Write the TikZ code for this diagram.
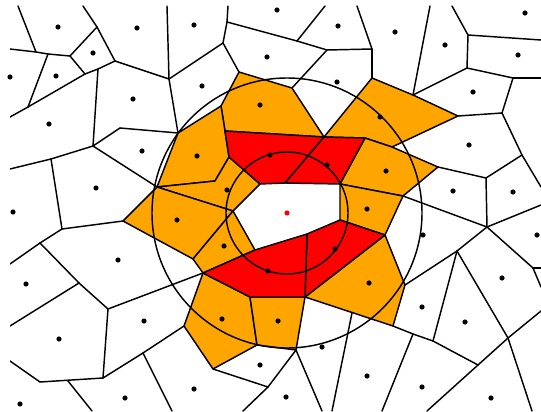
\documentclass[tikz,border=0pt]{standalone}
\definecolor{cellorange}{RGB}{255,165,0}
\definecolor{cellred}{RGB}{255,0,0}
\tikzset{edge/.style={line width=1.45pt},
  ocell/.style={edge,fill=cellorange},
  rcell/.style={edge,fill=cellred}}
\begin{document}
\begin{tikzpicture}[x=1pt,y=-1pt,line join=round,line cap=round]
	\useasboundingbox (0,0) rectangle (541,412);
	% Voronoi vertices
	\foreach \n/\x/\y in {1/18/6,2/36/52,3/10/49,4/48/54,5/70/56,6/83/6,7/97/27,8/115/61,9/85/74,10/98/69,
		11/28/107,12/10/117,13/167/6,14/169/79,15/228/6,16/227/22,17/223/43,18/297/41,19/325/6,20/327/50,
		21/372/49,22/357/6,23/372/78,24/292/88,25/239/72,26/93/146,27/120/128,28/178/133,29/10/169,30/51/159,
		31/157/187,32/221/106,33/225/131,34/229/157,35/215/181,36/324/137,37/365/138,38/392/147,39/413/95,40/458/116,
		41/430/6,42/452/6,43/468/35,44/541/40,45/467/68,46/513/78,47/541/78,48/502/113,49/522/155,50/541/187,
		51/486/178,52/438/167,53/403/196,54/487/227,55/541/205,56/385/235,57/405/285,58/457/251,59/533/268,60/541/268,
		61/541/287,62/508/338,63/541/311,64/532/411,65/478/365,66/427/411,67/433/341,68/413/334,69/382/411,70/393/326,
		71/352/313,72/332/411,73/305/297,74/296/350,75/322/411,76/268/387,77/243/411,78/257/345,79/213/369,80/250/297,
		81/203/273,82/184/326,83/143/353,84/172/411,85/103/378,86/108/309,87/79/283,88/10/326,89/40/243,90/10/264,
		91/62/229,92/123/221,93/193/259,94/40/382,95/10/361,96/68/381,97/92/411,
		98/260/184,99/285/183,100/340/184,101/340/220,102/307/234,103/255/250,104/233/211}
		\coordinate (v\n) at (\x,\y);
	\begin{scope}
	\clip (10,6) rectangle (541,411);
	% cells of the outer ring
	\draw[ocell] (v25)--(v24)--(v36)--(v33)--(v32)--cycle;
	\draw[ocell] (v23)--(v39)--(v40)--(v38)--(v37)--(v36)--cycle;
	\draw[ocell] (v28)--(v32)--(v33)--(v34)--(v35)--(v31)--cycle;
	\draw[ocell] (v31)--(v35)--(v34)--(v98)--(v104)--cycle;
	\draw[ocell] (v37)--(v38)--(v52)--(v53)--(v100)--cycle;
	\draw[ocell] (v31)--(v104)--(v93)--(v92)--cycle;
	\draw[ocell] (v93)--(v104)--(v103)--(v81)--cycle;
	\draw[ocell] (v100)--(v53)--(v56)--(v101)--cycle;
	\draw[ocell] (v56)--(v57)--(v70)--(v73)--cycle;
	\draw[ocell] (v81)--(v80)--(v78)--(v79)--(v82)--cycle;
	\draw[ocell] (v80)--(v73)--(v74)--(v78)--cycle;
	% cells of the inner ring
	\draw[rcell] (v33)--(v36)--(v99)--(v98)--(v34)--cycle;
	\draw[rcell] (v36)--(v37)--(v100)--(v99)--cycle;
	\draw[rcell] (v101)--(v56)--(v73)--(v102)--cycle;
	\draw[rcell] (v102)--(v73)--(v80)--(v81)--(v103)--cycle;
	% remaining edges
	\foreach \a/\b in {1/2,3/2,2/4,4/5,4/11,11/12,11/9,5/9,5/7,6/7,7/8,8/10,9/10,10/26,8/14,13/14,14/17,
		15/16,16/17,16/18,18/19,18/20,20/21,21/22,21/23,20/24,17/25,14/28,26/27,27/28,26/31,26/30,30/29,
		30/91,91/92,91/89,89/90,89/87,87/88,87/86,86/81,86/85,85/94,94/95,85/83,83/82,83/84,96/97,
		39/41,39/45,42/43,43/44,43/45,45/46,46/47,46/48,48/40,48/49,49/50,49/51,51/52,51/54,54/55,53/54,
		54/58,54/59,59/60,59/61,58/57,58/67,58/62,62/63,62/64,62/65,67/65,65/66,70/68,68/67,68/69,
		71/72,74/75,74/76,76/77,79/76}
		\draw[edge] (v\a)--(v\b);
	\end{scope}
	\draw[edge] (287,213) circle[radius=135pt];
	\draw[edge] (287,213) circle[radius=61pt];
	% sites
	\foreach \x/\y in {58/27,137/28,194/25,93/53,56/76,10/77,267/57,202/86,133/99,49/124,260/105,142/151,
		197/156,227/190,96/188,277/10,338/26,395/32,525/13,445/45,518/55,337/82,473/92,380/117,469/145,
		270/155,327/165,386/171,453/191,513/192,13/212,177/220,224/246,118/260,26/284,268/271,144/321,
		222/319,59/339,260/365,194/389,125/398,20/404,367/209,423/235,537/235,335/249,369/283,502/278,
		422/307,278/321,465/322,322/347,367/376,422/387,286/397,491/398}
		\fill (\x,\y) circle[radius=2.6pt];
	\fill[cellred] (287,213) circle[radius=2.6pt];
\end{tikzpicture}
\end{document}
